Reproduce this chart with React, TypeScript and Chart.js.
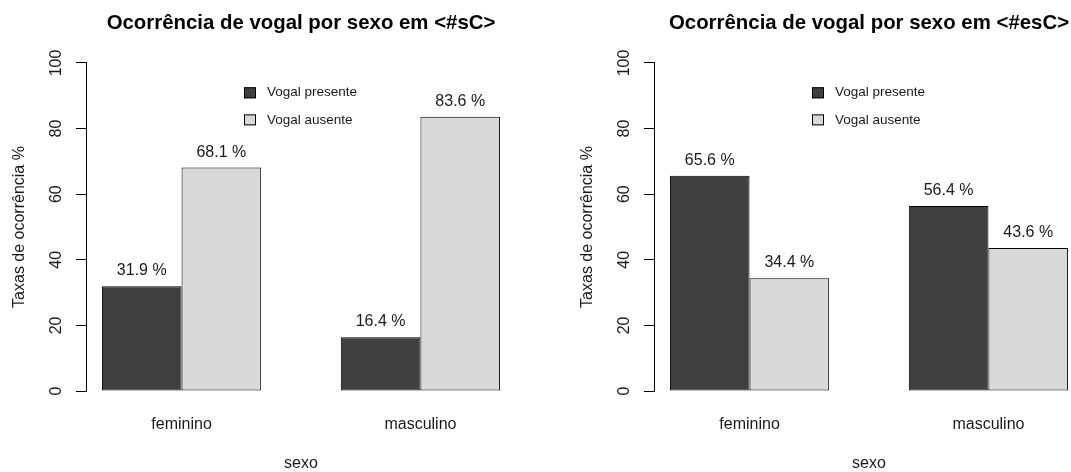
import React, { useEffect, useRef } from "react";
import { Chart, registerables } from "chart.js";

Chart.register(...registerables);

// ---- data ----
const categories = ["feminino", "masculino"];
const seriesNames = ["Vogal presente", "Vogal ausente"];
const sCPresente = [31.9, 16.4];
const sCAusente = [68.1, 83.6];
const esCPresente = [65.6, 56.4];
const esCAusente = [34.4, 43.6];
const yTicks = [0, 20, 40, 60, 80, 100];
const panelTitles = [
  "Ocorrência de vogal por sexo em <#sC>",
  "Ocorrência de vogal por sexo em <#esC>",
];
const xTitle = "sexo";
const yTitle = "Taxas de ocorrência %";

// ---- styling ----
const FONT = "'Liberation Sans', Arial, Helvetica, sans-serif";
const barColors = ["#404040", "#d9d9d9"];
const CANVAS_W = 568;
const CANVAS_H = 476;

// Grouped barplot layout: bars are one unit wide, groups separated by one unit.
const groupCenter = (i: number) => 2 + 3 * i;

const valueLabels = {
  id: "valueLabels",
  afterDatasetsDraw(chart: any) {
    const ctx = chart.ctx;
    ctx.save();
    ctx.font = `16px ${FONT}`;
    ctx.fillStyle = "#1a1a1a";
    ctx.textAlign = "center";
    ctx.textBaseline = "middle";
    chart.data.datasets.forEach((ds: any, d: number) => {
      const meta = chart.getDatasetMeta(d);
      meta.data.forEach((el: any, i: number) => {
        const v = ds.data[i].y as number;
        ctx.fillText(`${v.toFixed(1)} %`, el.x, el.y - 15.5);
      });
    });
    ctx.restore();
  },
};

const boxLegend = {
  id: "boxLegend",
  afterDraw(chart: any) {
    const ctx = chart.ctx;
    const { left, top } = chart.chartArea;
    ctx.save();
    ctx.font = `13.5px ${FONT}`;
    ctx.textAlign = "left";
    ctx.textBaseline = "middle";
    chart.data.datasets.forEach((ds: any, d: number) => {
      const cy = top + 29.8 + d * 27.1;
      const sx = left + 158;
      ctx.fillStyle = ds.backgroundColor;
      ctx.fillRect(sx, cy - 5.5, 12, 11);
      ctx.strokeStyle = "#000";
      ctx.lineWidth = 1;
      ctx.strokeRect(sx + 0.5, cy - 5.5 + 0.5, 11, 10);
      ctx.fillStyle = "#1a1a1a";
      ctx.fillText(ds.label, left + 181, cy);
    });
    ctx.restore();
  },
};

function Panel({ title, presente, ausente, offsetX }: { title: string; presente: number[]; ausente: number[]; offsetX: number }) {
  const ref = useRef<HTMLCanvasElement | null>(null);

  useEffect(() => {
    if (!ref.current) return;
    const series = [presente, ausente];
    const chart = new Chart(ref.current, {
      type: "bar",
      data: {
        datasets: series.map((vals, s) => ({
          label: seriesNames[s],
          data: categories.map((_, i) => ({ x: groupCenter(i), y: vals[i] })),
          backgroundColor: barColors[s],
          borderColor: "#000",
          borderWidth: 1,
          borderSkipped: false,
          categoryPercentage: 2 / 3,
          barPercentage: 1,
        })),
      },
      options: {
        responsive: false,
        animation: false,
        devicePixelRatio: 1,
        font: { family: FONT },
        layout: { padding: { left: 0, right: 52, top: 0, bottom: 0 } },
        plugins: {
          legend: { display: false },
          tooltip: { enabled: false },
          title: {
            display: true,
            text: title,
            fullSize: false,
            color: "#000",
            font: { family: FONT, size: 20.4, weight: "bold" },
            padding: { top: 11.5, bottom: 27 },
          },
        },
        scales: {
          x: {
            type: "linear",
            min: 0.8,
            max: 6.2,
            offset: false,
            afterBuildTicks: (scale: any) => {
              scale.ticks = categories.map((_, i) => ({ value: groupCenter(i) }));
            },
            afterFit: (scale: any) => {
              scale.height = CANVAS_H - 391;
            },
            grid: { display: false, drawTicks: false },
            border: { display: false },
            ticks: {
              autoSkip: false,
              padding: 24,
              color: "#1a1a1a",
              font: { family: FONT, size: 16 },
              callback: (_v: any, i: number) => categories[i],
            },
            title: {
              display: true,
              text: xTitle,
              color: "#1a1a1a",
              font: { family: FONT, size: 16 },
              padding: { top: 0, bottom: 3 },
            },
          },
          y: {
            min: 0,
            max: 100,
            afterBuildTicks: (scale: any) => {
              scale.ticks = yTicks.map((v) => ({ value: v }));
            },
            afterFit: (scale: any) => {
              scale.width = 86;
            },
            grid: {
              display: true,
              drawOnChartArea: false,
              drawTicks: true,
              tickLength: 10,
              color: "#000",
              lineWidth: 1,
            },
            border: { display: true, color: "#000", width: 1 },
            ticks: {
              autoSkip: false,
              minRotation: 90,
              maxRotation: 90,
              crossAlign: "center",
              padding: 6,
              color: "#1a1a1a",
              font: { family: FONT, size: 16 },
            },
            title: {
              display: true,
              text: yTitle,
              color: "#1a1a1a",
              font: { family: FONT, size: 16 },
              padding: { top: 9.5, bottom: 0 },
            },
          },
        },
      },
      plugins: [valueLabels, boxLegend],
    } as any);
    return () => chart.destroy();
  }, [title, presente, ausente]);

  return (
    <canvas
      ref={ref}
      width={CANVAS_W}
      height={CANVAS_H}
      style={{ position: "absolute", left: offsetX, top: 0, width: CANVAS_W, height: CANVAS_H, display: "block" }}
    />
  );
}

export default function App() {
  return (
    <div
      style={{
        position: "fixed",
        left: 0,
        top: 0,
        width: 1071,
        height: 472,
        overflow: "hidden",
        background: "#fff",
      }}
    >
      <Panel title={panelTitles[0]} presente={sCPresente} ausente={sCAusente} offsetX={0} />
      <Panel title={panelTitles[1]} presente={esCPresente} ausente={esCAusente} offsetX={568} />
    </div>
  );
}
